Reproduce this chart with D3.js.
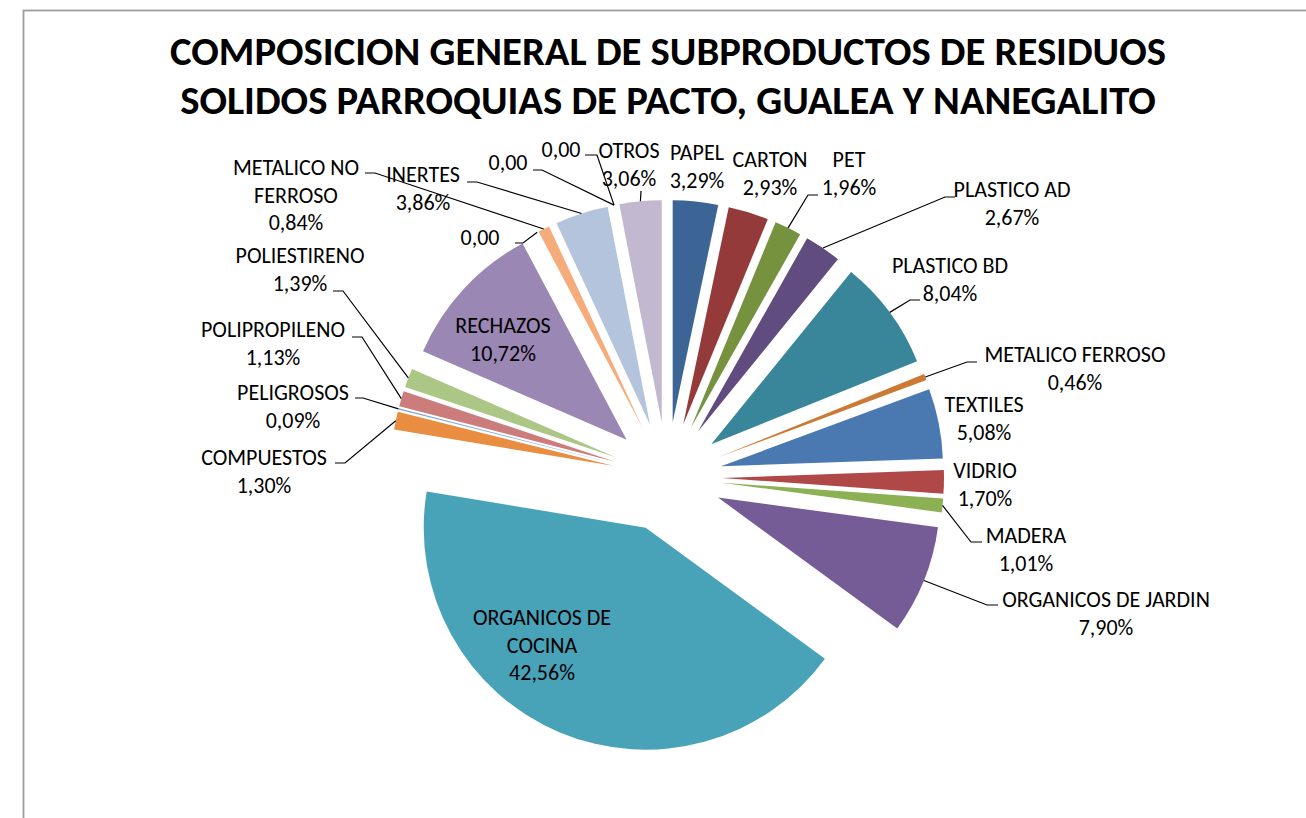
<!DOCTYPE html>
<html>
<head>
<meta charset="utf-8">
<script src="https://cdn.jsdelivr.net/npm/d3@7"></script>
<style>
  html, body { margin: 0; padding: 0; background: #fff; }
  svg { display: block; }
</style>
</head>
<body>
<div id="pie-chart"></div>
<script>
// ── Data ──────────────────────────────────────────────────────────────────────
const CATEGORIES = [
  "PAPEL", "CARTON", "PET", "PLASTICO AD", "PLASTICO BD", "METALICO FERROSO",
  "TEXTILES", "VIDRIO", "MADERA", "ORGANICOS DE JARDIN", "ORGANICOS DE COCINA",
  "COMPUESTOS", "PELIGROSOS", "POLIPROPILENO", "POLIESTIRENO", "RECHAZOS", "",
  "METALICO NO FERROSO", "INERTES", "", "", "OTROS"
];
const VALUES = [
  3.29, 2.93, 1.96, 2.67, 8.04, 0.46,
  5.08, 1.70, 1.01, 7.90, 42.56,
  1.30, 0.09, 1.13, 1.39, 10.72, 0,
  0.84, 3.86, 0, 0, 3.06
];
const COLORS = [
  "#3c6494", "#953a3a", "#77923f", "#604c7e", "#39869a", "#cb7a36",
  "#4a78b0", "#b04848", "#8cb155", "#755c96", "#48a2b8",
  "#e98d41", "#7ea3d6", "#cc7c7a", "#abc685", "#9b87b3", "#ffffff",
  "#f6ab7a", "#b5c4dd", "#ffffff", "#ffffff", "#c2b8d0"
];
const TITLE_LINES = [
  "COMPOSICION GENERAL DE SUBPRODUCTOS DE RESIDUOS",
  "SOLIDOS PARROQUIAS DE PACTO, GUALEA Y NANEGALITO"
];
const NAME_WRAP = {
  "METALICO NO FERROSO": ["METALICO NO", "FERROSO"],
  "ORGANICOS DE COCINA": ["ORGANICOS DE", "COCINA"]
};

// ── Label layout: text centre x, first baseline y ─────────────────────────────
const LABEL_POS = [
  [697, 160], [770, 167], [849, 167], [1012, 197], [950, 273], [1075, 362],
  [984, 412], [985, 478], [1026, 543], [1106, 607], [542, 625],
  [264, 465], [293, 400], [273, 337], [300, 263], [503, 333], [480, 245],
  [296, 175], [423, 182], [508, 170], [561, 157], [629, 158]
];
// leader start (at label) and elbow, keyed by slice index
const LEADERS = {
  2:  [[818, 195], [808, 195]],
  3:  [[955, 197], [945, 197]],
  4:  [[920, 300], [910, 300]],
  5:  [[977, 362], [967, 362]],
  8:  [[982, 542], [971, 542]],
  9:  [[998, 605], [987, 605]],
  11: [[335, 463], [345, 463]],
  12: [[355, 398], [363, 398]],
  13: [[352, 337], [362, 337]],
  14: [[333, 291], [343, 291]],
  16: [[515, 243], [523, 243]],
  17: [[365, 173], [375, 173]],
  18: [[467, 182], [477, 182]],
  19: [[533, 170], [542, 170]],
  20: [[585, 155], [597, 155]],
  21: [[641, 191], [641, 191]]
};

// ── Dimensions ────────────────────────────────────────────────────────────────
const W = 1306, H = 818;
const CX = 667, CY = 477;
const RADIUS  = 222;
const EXPLODE = 55;
const LINE_H  = 27.5;
const FONT    = "Carlito, Calibri, Lato, 'Open Sans', sans-serif";

const svg = d3.select("#pie-chart")
  .append("svg")
  .attr("width", W)
  .attr("height", H);

// chart area border
svg.append("rect")
  .attr("x", 23.5).attr("y", 10.5)
  .attr("width", W + 20).attr("height", H + 20)
  .attr("fill", "#fff")
  .attr("stroke", "#9d9d9d").attr("stroke-width", 1.8);

// ── Title ─────────────────────────────────────────────────────────────────────
const title = svg.append("text")
  .attr("text-anchor", "middle")
  .style("font-family", FONT)
  .style("font-weight", "bold")
  .style("font-size", "36px")
  .attr("fill", "#000");
TITLE_LINES.forEach((t, i) => {
  title.append("tspan").attr("x", 668).attr("y", 65 + i * 49).text(t);
});
// fit the first line to the original width
const firstW = title.select("tspan").node().getComputedTextLength();
title.style("font-size", (36 * 996 / firstW) + "px");

// ── Pie ───────────────────────────────────────────────────────────────────────
const data = CATEGORIES.map((name, i) => ({ name, value: VALUES[i], color: COLORS[i], i }));
const arcs = d3.pie().sort(null).value(d => d.value)(data);
const arc  = d3.arc().innerRadius(0).outerRadius(RADIUS);

const midAngle = d => (d.startAngle + d.endAngle) / 2;
const polar = (a, r) => [Math.sin(a) * r, -Math.cos(a) * r];

const pieG = svg.append("g").attr("transform", `translate(${CX},${CY})`);

pieG.selectAll("path.slice")
  .data(arcs.filter(d => d.data.value > 0))
  .join("path")
  .attr("class", "slice")
  .attr("transform", d => {
    const [x, y] = polar(midAngle(d), EXPLODE);
    return `translate(${x},${y})`;
  })
  .attr("d", arc)
  .attr("fill", d => d.data.color);

// ── Leader lines ──────────────────────────────────────────────────────────────
arcs.forEach(d => {
  const ld = LEADERS[d.data.i];
  if (!ld) return;
  const [px, py] = polar(midAngle(d), EXPLODE + RADIUS);
  const path = d3.path();
  path.moveTo(ld[0][0], ld[0][1]);
  path.lineTo(ld[1][0], ld[1][1]);
  path.lineTo(CX + px, CY + py);
  svg.append("path")
    .attr("d", path.toString())
    .attr("fill", "none")
    .attr("stroke", "#000")
    .attr("stroke-width", 1.2);
});

// ── Data labels ───────────────────────────────────────────────────────────────
const fmt = v => v === 0 ? "0,00" : v.toFixed(2).replace(".", ",") + "%";

arcs.forEach(d => {
  const [lx, ly] = LABEL_POS[d.data.i];
  const name = d.data.name;
  const lines = (name ? (NAME_WRAP[name] || [name]) : []).concat(fmt(d.data.value));
  const t = svg.append("text")
    .attr("text-anchor", "middle")
    .style("font-family", FONT)
    .style("font-size", "22px")
    .attr("fill", "#000");
  lines.forEach((s, k) => {
    t.append("tspan").attr("x", lx).attr("y", ly + k * LINE_H).text(s);
  });
});
</script>
</body>
</html>
